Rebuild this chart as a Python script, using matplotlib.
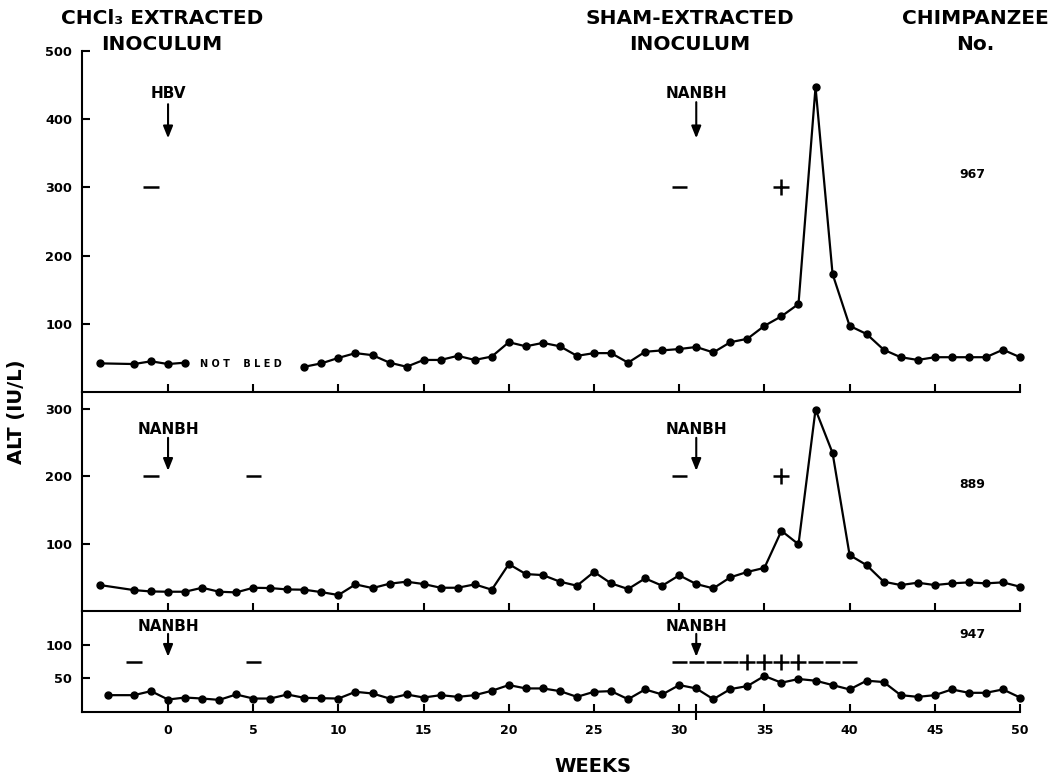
import matplotlib
matplotlib.use("Agg")
import matplotlib.pyplot as plt
import numpy as np

plt.rcParams['font.family'] = ['DejaVu Sans']
plt.rcParams['font.weight'] = 'bold'

# ---------------- data ----------------
# Chimpanzee 967 (two segments, "NOT BLED" gap between weeks 1 and 8)
weeks_967_a = [-4, -2, -1, 0, 1]
alt_967_a = [42, 41, 45, 41, 43]
weeks_967_b = list(range(8, 51))
alt_967_b = [37, 42, 50, 57, 54, 43, 37, 47, 47, 53, 47, 52, 73, 67, 72, 67,
             53, 57, 57, 43, 59, 61, 63, 66, 58, 73, 78, 97, 111, 129, 447, 173,
             97, 85, 62, 51, 47, 51, 51, 51, 51, 62, 51]

# Chimpanzee 889
weeks_889 = [-4, -2, -1] + list(range(0, 51))
alt_889 = [38.5, 31, 29, 28.6, 28.6, 34.5, 28.6, 27.6, 34.5, 34, 32, 31.6, 28,
           23.7, 39.5, 34, 40.5, 43.5, 40, 34.5, 34.5, 39.5, 31.6, 69.6, 54.8,
           53.3, 43.5, 37.5, 58, 41, 32.6, 48.4, 37.5, 53, 40, 33.6, 50, 58, 64,
           119, 99, 299, 234.5, 83, 68, 43.5, 38.5, 42, 38.5, 41, 42.5, 41, 42.5, 36]

# Chimpanzee 947
weeks_947 = [-3.5, -2, -1] + list(range(0, 51))
alt_947 = [25, 25, 31, 18.5, 21.5, 20, 18, 26, 20, 20, 26, 21, 20.5, 20, 30,
           27.5, 20, 26, 21.5, 25, 22.5, 25, 31.5, 40, 35, 35, 31, 22.5, 30, 31,
           19, 33.5, 26, 40, 35, 19, 34, 38.5, 53.5, 43.5, 49, 46.5, 40, 33.5,
           46.5, 44.5, 25, 22.5, 25, 33.5, 28.5, 28.5, 33.5, 21.5]

x_ticks = list(range(0, 51, 5))
y_ticks_967 = [100, 200, 300, 400, 500]
y_ticks_889 = [100, 200, 300]
y_ticks_947 = [50, 100]

# serology signs: (week, sign, level)
signs_967 = [(-1, '-', 300), (30, '-', 300), (36, '+', 300)]
signs_889 = [(-1, '-', 200), (5, '-', 200), (30, '-', 200), (36, '+', 200)]
signs_947 = [(-2, '-', 74), (5, '-', 74)] + \
    [(w, '-', 74) for w in (30, 31, 32, 33)] + \
    [(w, '+', 74) for w in (34, 35, 36, 37)] + \
    [(w, '-', 74) for w in (38, 39, 40)]

# inoculations: (week, label, text level, arrow start, arrow end)
inoc_967 = [(0, 'HBV', 437, 422, 372), (31, 'NANBH', 437, 425, 372)]
inoc_889 = [(0, 'NANBH', 269, 257, 208), (31, 'NANBH', 269, 257, 208)]
inoc_947 = [(0, 'NANBH', 127, 116, 82), (31, 'NANBH', 127, 116, 82)]

chimp_labels = [('967', 319), ('889', 187), ('947', 115)]

# ---------------- figure ----------------
W, H = 1060, 775
fig = plt.figure(figsize=(W / 100, H / 100), dpi=100)


def ax_rect(px_left, px_right, py_top, py_bottom):
    return [px_left / W, 1 - py_bottom / H, (px_right - px_left) / W, (py_bottom - py_top) / H]


ax1 = fig.add_axes(ax_rect(82, 1020, 51, 392))
ax2 = fig.add_axes(ax_rect(82, 1020, 392, 611))
ax3 = fig.add_axes(ax_rect(82, 1020, 611, 712))

LW = 1.5
for ax, ylim, yt in ((ax1, 500, y_ticks_967), (ax2, 325, y_ticks_889), (ax3, 150, y_ticks_947)):
    ax.set_xlim(-5.05, 50)
    ax.set_ylim(0, ylim)
    ax.patch.set_alpha(0)
    for s in ('top', 'right'):
        ax.spines[s].set_visible(False)
    for s in ('left', 'bottom'):
        ax.spines[s].set_linewidth(LW)
    ax.set_xticks(x_ticks)
    ax.set_xticks([0], minor=True)
    ax.set_yticks(yt)
    ax.set_yticklabels([str(v) for v in yt], fontsize=9.3, fontweight='bold')
    ax.tick_params(axis='x', which='major', direction='in', length=5.5, width=LW, pad=9)
    ax.tick_params(axis='x', which='minor', direction='inout', length=11, width=LW)
    ax.tick_params(axis='y', direction='in', length=6, width=LW, pad=7)

ax1.tick_params(axis='x', labelbottom=False)
ax2.tick_params(axis='x', labelbottom=False)
ax3.set_xticks([0, 31], minor=True)
ax3.set_xticklabels([str(v) for v in x_ticks], fontsize=9, fontweight='bold')

line_kw = dict(color='black', lw=1.6, marker='o', ms=5, clip_on=False, zorder=3)
ax1.plot(weeks_967_a, alt_967_a, **line_kw)
ax1.plot(weeks_967_b, alt_967_b, **line_kw)
ax2.plot(weeks_889, alt_889, **line_kw)
ax3.plot(weeks_947, alt_947, **line_kw)

# NOT BLED
ax1.text(4.25, 41, 'N O T    B L E D', fontsize=7, fontweight='bold',
         ha='center', va='center')


def draw_signs(ax, signs, half=0.45):
    for w, s, lev in signs:
        if s == '-':
            ax.plot([w - half, w + half], [lev, lev], color='black', lw=1.8,
                    solid_capstyle='butt', clip_on=False)
        else:
            ax.plot([w], [lev], marker='+', ms=11, mew=1.8, color='black', clip_on=False)


draw_signs(ax1, signs_967)
draw_signs(ax2, signs_889)
draw_signs(ax3, signs_947)


def draw_inoc(ax, inocs):
    for w, lab, ty, y0, y1 in inocs:
        ax.text(w, ty, lab, fontsize=11, fontweight='bold', ha='center', va='center')
        ax.annotate('', xy=(w, y1), xytext=(w, y0),
                    arrowprops=dict(arrowstyle='-|>,head_length=0.45,head_width=0.18',
                                    mutation_scale=16, lw=1.5, color='black',
                                    shrinkA=0, shrinkB=0),
                    annotation_clip=False)


draw_inoc(ax1, inoc_967)
draw_inoc(ax2, inoc_889)
draw_inoc(ax3, inoc_947)

for ax, (lab, lev) in zip((ax1, ax2, ax3), chimp_labels):
    ax.text(47.2, lev, lab, fontsize=9, fontweight='bold', ha='center', va='center')

# headers
hdr = dict(fontsize=14.5, fontweight='bold', ha='center', va='center',
           family=['DejaVu Sans'])
fig.text(162 / W, 1 - 18 / H, 'CHCl\u2083 EXTRACTED', **hdr)
fig.text(162 / W, 1 - 45 / H, 'INOCULUM', **hdr)
fig.text(690 / W, 1 - 18 / H, 'SHAM-EXTRACTED', **hdr)
fig.text(690 / W, 1 - 45 / H, 'INOCULUM', **hdr)
fig.text(975 / W, 1 - 18 / H, 'CHIMPANZEE', **hdr)
fig.text(975 / W, 1 - 45 / H, 'No.', **hdr)

fig.text(17 / W, 1 - 412 / H, 'ALT (IU/L)', fontsize=14, fontweight='bold',
         rotation=90, ha='center', va='center')
fig.text(593 / W, 1 - 766 / H, 'WEEKS', fontsize=14, fontweight='bold',
         ha='center', va='center')

fig.savefig('out.png', dpi=100)
